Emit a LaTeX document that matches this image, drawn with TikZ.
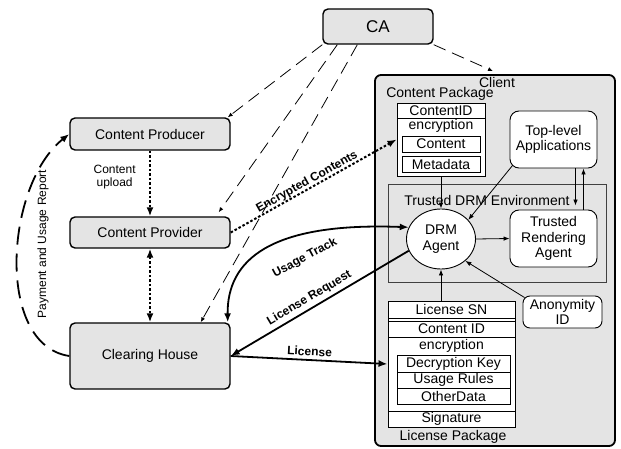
\documentclass[tikz,border=0pt]{standalone}
\usepackage{fontspec}
\setmainfont{Liberation Sans}
\usetikzlibrary{arrows.meta,shapes.geometric}
\definecolor{boxgray}{HTML}{E4E4E4}

\begin{document}
\begin{tikzpicture}[x=1pt,y=-1pt,
  >={Latex[length=9pt,width=7pt]},
  box/.style={draw,line width=1.4pt,rounded corners=5pt,fill=boxgray,font=\fontsize{14}{16}\selectfont},
  wbox/.style={draw,line width=0.9pt,rounded corners=9pt,fill=white,align=center,inner sep=0pt,font=\fontsize{14}{15.5}\selectfont},
  cell/.style={draw,line width=0.9pt,fill=white,inner sep=0pt,font=\fontsize{14}{16}\selectfont},
  txt/.style={inner sep=0pt,font=\fontsize{14}{16}\selectfont},
  lbl/.style={font=\bfseries\fontsize{12}{13}\selectfont},
  small/.style={font=\fontsize{12}{13.5}\selectfont},
  flow/.style={line width=0.8pt,-{Latex[length=6pt,width=4.5pt]}},
  caline/.style={line width=0.8pt,dash pattern=on 13pt off 7pt,-{Latex[length=5pt,width=4pt]}},
  dotline/.style={line width=2pt,dash pattern=on 2.5pt off 2pt},
  bold/.style={line width=1.8pt},
  payline/.style={line width=1.8pt,dash pattern=on 18pt off 9pt}]
\useasboundingbox (0,0) rectangle (621,449);
% Left side parties
\node[box,minimum width=110,minimum height=35,font=\fontsize{17}{19}\selectfont] (ca) at (378,26.5) {CA};
\node[box,minimum width=160,minimum height=32] (producer) at (150,134) {Content Producer};
\node[box,minimum width=160,minimum height=31] (provider) at (150,232.5) {Content Provider};
\node[box,minimum width=160,minimum height=66] (clearing) at (150,356) {Clearing House};
% Client
\node[box,line width=1.8pt,rounded corners=6pt,minimum width=240,minimum height=371] (client) at (495,260.5) {};
\node[txt] (clientlbl) at (497,82) {Client};
% Content package
\node[txt] (cpkglbl) at (440,94) {Content Package};
\node[cell,minimum width=88,minimum height=73] (cpkg) at (441,139.5) {};
\node[cell,minimum width=88,minimum height=15] (cpid) at (441,110.5) {ContentID};
\node[txt] (cpenc) at (441,126) {encryption};
\node[cell,minimum width=78,minimum height=16] (cpcont) at (441,144) {Content};
\node[cell,minimum width=78,minimum height=16] (cpmeta) at (441,164) {Metadata};
% Trusted DRM environment
\node[draw=black!75,line width=0.9pt,fill=boxgray,minimum width=218,minimum height=98] (tde) at (497,233) {};
\node[txt] (tdelbl) at (487,200) {Trusted DRM Environment};
\node[draw,ellipse,line width=0.9pt,fill=white,minimum width=69,minimum height=60,inner sep=0pt,align=center,font=\fontsize{14}{16}\selectfont] (drm) at (441,239) {DRM\\Agent};
\node[wbox,minimum width=87,minimum height=57] (rend) at (553.5,238.5) {Trusted\\Rendering\\Agent};
\node[wbox,minimum width=87,minimum height=57] (apps) at (553.5,139.5) {Top-level\\Applications};
\node[wbox,rounded corners=7pt,minimum width=79,minimum height=32] (anon) at (562.5,312) {Anonymity\\ID};
% License package
\node[cell,minimum width=127,minimum height=126] (lpkg) at (451.5,364) {};
\node[cell,minimum width=127,minimum height=17] (lsn) at (451.5,309.5) {License SN};
\node[cell,minimum width=127,minimum height=16] (lcid) at (451.5,329) {Content ID};
\node[txt] (lenc) at (451.5,346) {encryption};
\node[cell,minimum width=113,minimum height=17] (ldkey) at (453.5,363.5) {Decryption Key};
\node[cell,minimum width=113,minimum height=16] (lrules) at (453.5,380) {Usage Rules};
\node[cell,minimum width=113,minimum height=16] (lother) at (453.5,396) {OtherData};
\node[cell,minimum width=127,minimum height=16] (lsig) at (451.5,419) {Signature};
\node[txt] (lpkglbl) at (453,437) {License Package};
% CA links
\draw[caline] (ca.south west) -- ([xshift=-3pt]producer.north east);
\draw[caline] ([xshift=15pt]ca.south west) -- ([xshift=-12pt,yshift=4pt]provider.north east);
\draw[caline] ([xshift=35pt]ca.south west) -- ([xshift=-30pt]clearing.north east);
\draw[caline] (ca.south east) -- ([xshift=-2pt,yshift=3pt]client.north);
% Content flow
\draw[dotline,->] (producer.south) -- node[small,left=10pt,align=center,pos=0.4] (uplbl) {Content\\upload} (provider.north);
\draw[dotline,<->] (provider.south) -- (clearing.north);
\draw[dotline,->] (provider.east) -- node[lbl,sloped,above,inner sep=0pt,pos=0.48] (enclbl) {Encrypted Contents} (cpkg.west);
% Payment
\draw[payline,->] (clearing.west) .. controls (-5,345) and (5,185) .. (producer.west);
\node[small,rotate=90] (paylbl) at (43,244) {Payment and Usage Report};
% License traffic
\draw[bold,<->] ([xshift=-3pt]clearing.north east) .. controls (227,260) and (270,222) .. (drm.160);
\node[lbl,rotate=28] (uselbl) at (305,258) {Usage Track};
\draw[bold,<-] (clearing.east) -- node[lbl,sloped,above,pos=0.47] (reqlbl) {License Request} (drm.200);
\draw[bold,->] (clearing.east) -- node[lbl,sloped,above] (liclbl) {License} (lpkg.west);
% Inside client
\draw[flow] (cpkg.south) -- (drm.north);
\draw[flow] ([xshift=3pt,yshift=3pt]apps.south west) -- (drm.35);
\draw[flow] ([xshift=22pt]apps.south) -- ([xshift=22pt,yshift=4pt]rend.north);
\draw[flow] ([xshift=30pt]rend.north) -- ([xshift=30pt]apps.south);
\draw[flow] (drm.east) -- (rend.west);
\draw[flow] ([xshift=2pt,yshift=-2pt]anon.north west) -- (drm.-42);
\draw[flow] (drm.south |- lsn.north) -- (drm.south);
\end{tikzpicture}
\end{document}
